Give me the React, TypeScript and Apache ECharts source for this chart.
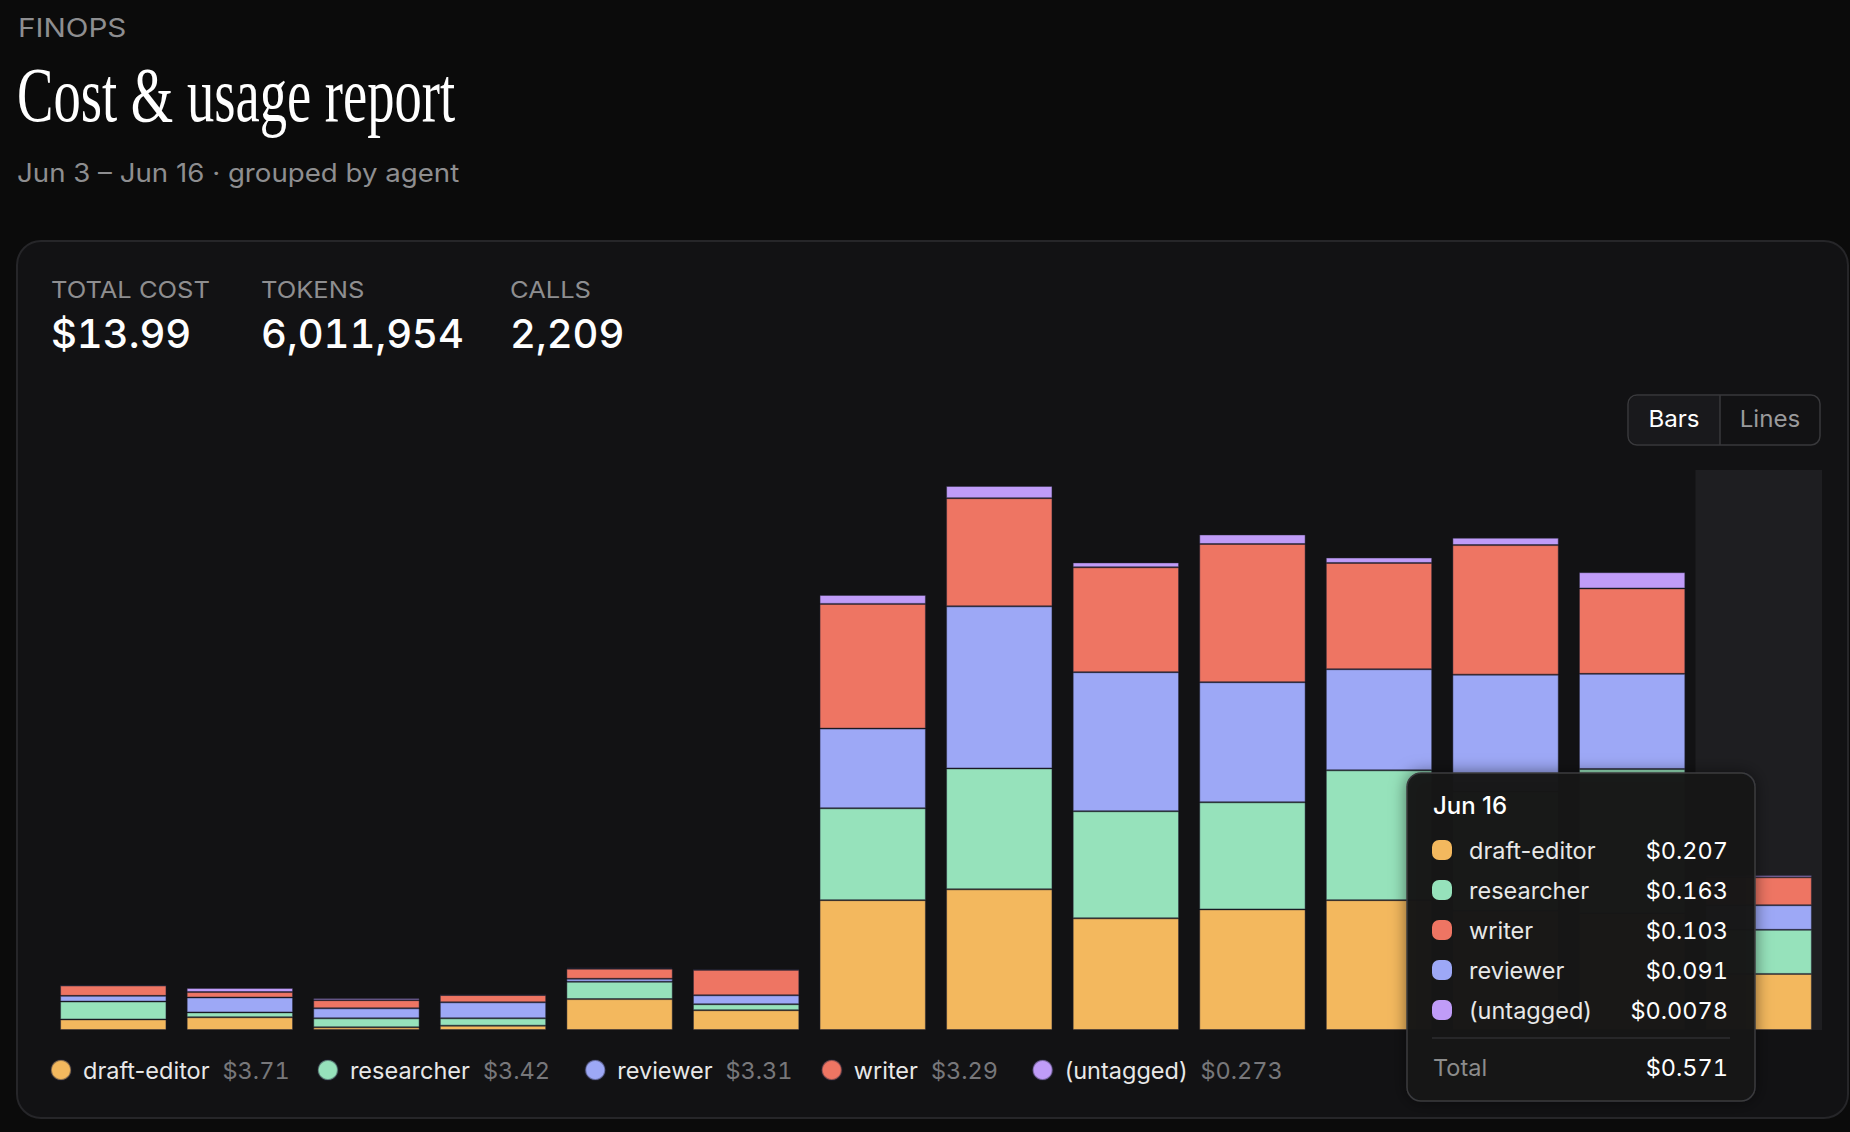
import React, { useEffect, useRef } from 'react';
import * as echarts from 'echarts';

// ---------- data ----------
const categories = ['Jun 3', 'Jun 4', 'Jun 5', 'Jun 6', 'Jun 7', 'Jun 8', 'Jun 9', 'Jun 10', 'Jun 11', 'Jun 12', 'Jun 13', 'Jun 14', 'Jun 15', 'Jun 16'];
const draftEditor = [0.039, 0.047, 0.010, 0.016, 0.114, 0.073, 0.479, 0.519, 0.412, 0.445, 0.479, 0.44, 0.43, 0.2068];
const researcher = [0.066, 0.018, 0.033, 0.027, 0.064, 0.022, 0.339, 0.446, 0.395, 0.395, 0.479, 0.44, 0.533, 0.1628];
const reviewer = [0.021, 0.055, 0.037, 0.059, 0.011, 0.033, 0.294, 0.598, 0.513, 0.443, 0.373, 0.431, 0.351, 0.0908];
const writer = [0.038, 0.020, 0.030, 0.027, 0.037, 0.094, 0.460, 0.399, 0.387, 0.510, 0.392, 0.478, 0.315, 0.1028];
const untagged = [0.001, 0.015, 0.007, 0, 0.004, 0.001, 0.033, 0.045, 0.018, 0.035, 0.020, 0.027, 0.060, 0.0078];

const seriesNames = ['draft-editor', 'researcher', 'reviewer', 'writer', '(untagged)'];
const seriesColors = ['#F3B85E', '#96E2BB', '#9DA8F6', '#EE7563', '#C09CF8'];
const legendTotals = ['$3.71', '$3.42', '$3.31', '$3.29', '$0.273'];

const kpiLabels = ['TOTAL COST', 'TOKENS', 'CALLS'];
const kpiValues = ['$13.99', '6,011,954', '2,209'];

const eyebrow = 'FINOPS';
const titleText = 'Cost & usage report';
const subtitleText = 'Jun 3 – Jun 16 · grouped by agent';
const toggleLabels = ['Bars', 'Lines'];
const hoveredIndex = 13;

// colours of texts that use tabular figures
const NUM_WHITE = '#fefefe';
const NUM_GREY = '#77777a';

const fmt = (v: number) => (v >= 0.01 ? '$' + v.toFixed(3) : '$' + v.toPrecision(2));

export default function App() {
  const ref = useRef<HTMLDivElement>(null);

  useEffect(() => {
    document.body.style.margin = '0';
    document.body.style.background = '#0b0b0b';
    document.body.style.overflow = 'hidden';
    const st = document.createElement('style');
    st.textContent = `svg text[fill="${NUM_WHITE}"], svg text[fill="${NUM_GREY}"] { font-feature-settings: "tnum" 1 !important; }`;
    document.head.appendChild(st);

    const chart = echarts.init(ref.current!, null, { renderer: 'svg' });

    const seriesData = [draftEditor, researcher, reviewer, writer, untagged];

    const txt = (text: string, x: number, y: number, size: number, color: string, o: any = {}) => ({
      type: 'text',
      x,
      y,
      z: o.z ?? 10,
      scaleX: o.scaleX ?? 1,
      silent: true,
      style: {
        text,
        fill: color,
        fontSize: size,
        fontFamily: o.family ?? 'Inter',
        fontWeight: o.weight ?? 400,
        align: o.align ?? 'left',
        textAlign: o.align ?? 'left',
        verticalAlign: 'middle',
        textVerticalAlign: 'middle',
      },
    });

    // tooltip rows (sorted by value, as in the reference)
    const rows = seriesNames
      .map((n, i) => ({ name: n, color: seriesColors[i], value: seriesData[i][hoveredIndex] }))
      .sort((a, b) => b.value - a.value);
    const total = rows.reduce((s, r) => s + r.value, 0);

    const tipX = 1407;
    const tipY = 773;
    const tooltipEls: any[] = [
      {
        type: 'rect',
        z: 200,
        shape: { x: tipX, y: tipY, width: 348, height: 328, r: 14 },
        style: { fill: 'rgba(22,23,25,0.97)', stroke: '#3a3a3d', lineWidth: 1.5, shadowBlur: 16, shadowColor: 'rgba(0,0,0,0.5)' },
      },
      txt(categories[hoveredIndex], 1433, 805, 24, '#ffffff', { z: 201, weight: 500 }),
    ];
    rows.forEach((r, i) => {
      const cy = 850 + 40 * i;
      tooltipEls.push({
        type: 'rect',
        z: 201,
        shape: { x: 1432, y: cy - 10, width: 20, height: 20, r: 7 },
        style: { fill: r.color },
      });
      tooltipEls.push(txt(r.name, 1469, cy, 23.5, '#e8e8e8', { z: 201 }));
      tooltipEls.push(txt(fmt(r.value), 1728, cy, 23.5, NUM_WHITE, { z: 201, align: 'right' }));
    });
    tooltipEls.push({
      type: 'line',
      z: 201,
      shape: { x1: 1432, y1: 1038, x2: 1730, y2: 1038 },
      style: { stroke: '#2e2e31', lineWidth: 1.5 },
    });
    tooltipEls.push(txt('Total', 1433, 1067, 23.5, '#8c8c8c', { z: 201 }));
    tooltipEls.push(txt(fmt(total), 1728, 1067, 23.5, NUM_WHITE, { z: 201, align: 'right' }));

    const kpiX = [51, 261, 510];
    const kpiEls: any[] = [];
    kpiLabels.forEach((l, i) => {
      kpiEls.push(txt(l, kpiX[i], 289, 23, '#8e8e90', { scaleX: 1.11 }));
      kpiEls.push(txt(kpiValues[i], kpiX[i], 333, 40, NUM_WHITE, { weight: 500 }));
    });

    const option: any = {
      animation: false,
      backgroundColor: '#0b0b0b',
      grid: { left: 50, right: 28, top: 470, bottom: 102, containLabel: false },
      xAxis: {
        type: 'category',
        data: categories,
        axisLine: { show: false },
        axisTick: { show: false },
        axisLabel: { show: false },
        splitLine: { show: false },
        axisPointer: {
          show: true,
          type: 'shadow',
          value: hoveredIndex,
          status: 'show',
          triggerTooltip: false,
          label: { show: false },
          shadowStyle: { color: '#1e1e21', opacity: 1 },
        },
      },
      yAxis: {
        type: 'value',
        min: 0,
        max: 2.066,
        show: false,
        splitLine: { show: false },
      },
      legend: {
        left: 50,
        top: 1058,
        padding: 0,
        itemWidth: 20,
        itemHeight: 20,
        itemGap: 36,
        icon: 'circle',
        selectedMode: false,
        data: seriesNames,
        formatter: (name: string) => {
          const i = seriesNames.indexOf(name);
          return `{n|${name}}{v|${legendTotals[i]}}`;
        },
        textStyle: {
          color: '#e8e8e8',
          fontSize: 23.5,
          fontFamily: 'Inter',
          rich: {
            n: { color: '#e8e8e8', fontSize: 23.5, fontFamily: 'Inter', padding: [0, 0, 0, 7] },
            v: { color: NUM_GREY, fontSize: 23.5, fontFamily: 'Inter', padding: [0, 0, 0, 13] },
          },
        },
      },
      series: seriesNames.map((n, i) => ({
        name: n,
        type: 'bar',
        stack: 'cost',
        z: 60,
        barCategoryGap: '16%',
        data: seriesData[i],
        itemStyle: { color: seriesColors[i], borderColor: 'rgba(40,40,60,0.45)', borderWidth: 1 },
        emphasis: { disabled: true },
      })),
      graphic: [
        {
          type: 'rect',
          z: -10,
          silent: true,
          shape: { x: 17, y: 241, width: 1831, height: 877, r: 24 },
          style: { fill: '#121214', stroke: '#262629', lineWidth: 2 },
        },
        txt(eyebrow, 18, 28, 26, '#8e8e90', { scaleX: 1.14 }),
        txt(titleText, 17, 94.5, 78, '#ffffff', { family: 'Liberation Serif', scaleX: 0.7 }),
        txt(subtitleText, 17, 172.5, 25.5, '#8e8e90', { scaleX: 1.085 }),
        ...kpiEls,
        {
          type: 'rect',
          z: 5,
          silent: true,
          shape: { x: 1628, y: 395, width: 192, height: 50, r: 9 },
          style: { fill: '#121214', stroke: '#38383b', lineWidth: 1.5 },
        },
        {
          type: 'rect',
          z: 6,
          silent: true,
          shape: { x: 1629, y: 396, width: 91, height: 48, r: [8, 0, 0, 8] },
          style: { fill: '#19191c' },
        },
        {
          type: 'line',
          z: 7,
          silent: true,
          shape: { x1: 1720, y1: 395, x2: 1720, y2: 445 },
          style: { stroke: '#38383b', lineWidth: 1.5 },
        },
        txt(toggleLabels[0], 1674, 419, 23, '#ffffff', { z: 8, align: 'center', scaleX: 1.05 }),
        txt(toggleLabels[1], 1770, 419, 23, '#9a9a9c', { z: 8, align: 'center', scaleX: 1.05 }),
        ...tooltipEls,
      ],
    };

    chart.setOption(option);
    return () => {
      chart.dispose();
      st.remove();
    };
  }, []);

  return <div ref={ref} style={{ position: 'absolute', left: 0, top: 0, width: 1850, height: 1132 }} />;
}
